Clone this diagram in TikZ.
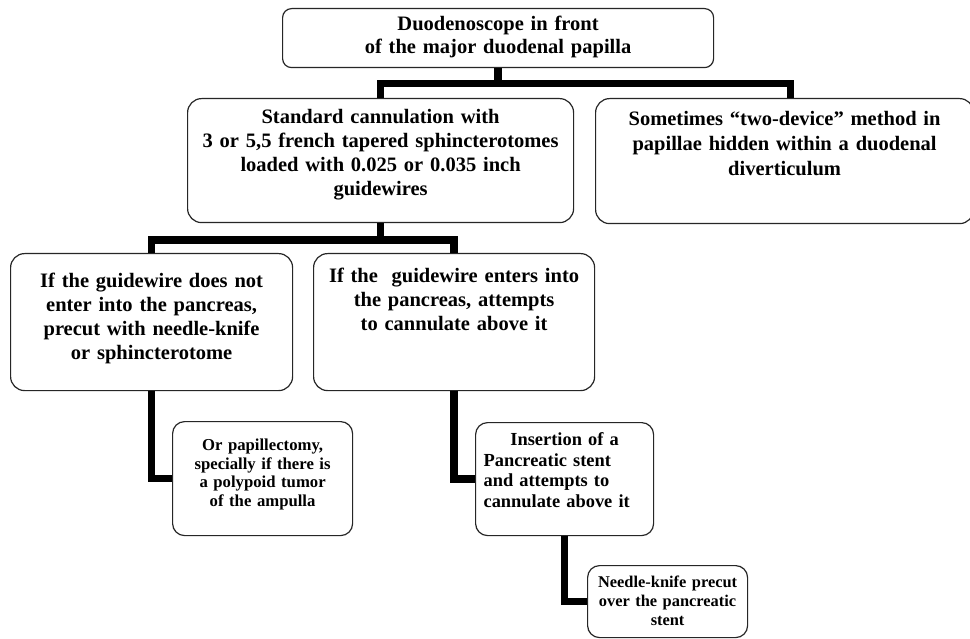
\documentclass[tikz,border=0pt]{standalone}
\usepackage{fontspec}
\setmainfont{Liberation Serif}
\begin{document}
\begin{tikzpicture}[x=1pt,y=-1pt,
  box/.style={draw=black!85, line width=1.2pt, rounded corners=14pt, inner sep=0pt,
    anchor=north west, align=center, font=\bfseries\fontsize{20.5}{24}\selectfont},
  smallbox/.style={box, rounded corners=12pt},
  conn/.style={line width=7.5pt, line join=miter, line cap=butt}]
\useasboundingbox (0,0) rectangle (970,639);
\fill[white] (0,0) rectangle (970,639);
\clip (0,0) rectangle (970,639);

\node[box, rounded corners=9pt, text width=431pt, text height=22pt, text depth=37pt,
  font=\bfseries\fontsize{20.5}{23}\selectfont] (top) at (282,8)
  {Duodenoscope in front\\of the major duodenal papilla};

\node[box, text width=386pt, text height=25pt, text depth=99pt] (mid) at (187,98)
  {Standard cannulation with\\3 or 5,5 french tapered sphincterotomes\\loaded with 0.025 or 0.035 inch\\guidewires};

\node[box, text width=378pt, text height=27pt, text depth=98pt,
  font=\bfseries\fontsize{20.5}{25}\selectfont] (right) at (595,98)
  {Sometimes “two-device” method in\\papillae hidden within a duodenal\\diverticulum};

\node[box, text width=282pt, text height=34pt, text depth=103pt] (left) at (10,253)
  {If the guidewire does not\\enter into the pancreas,\\precut with needle-knife\\or sphincterotome};

\node[box, text width=281pt, text height=29pt, text depth=108pt] (second) at (313,253)
  {If the\ \ guidewire enters into\\the pancreas, attempts\\to cannulate above it};

\node[smallbox, text width=180pt, text height=29pt, text depth=85pt,
  font=\bfseries\fontsize{16.7}{18.5}\selectfont] (orb) at (172,421)
  {Or papillectomy,\\specially if there is\\a polypoid tumor\\of the ampulla};

\node[smallbox, align=left, text width=178pt, text height=23pt, text depth=90pt,
  font=\bfseries\fontsize{18.4}{20.5}\selectfont] (ins) at (475,422)
  {\makebox[\linewidth]{Insertion of a}\\\hspace*{8pt}Pancreatic stent\\\hspace*{8pt}and attempts to\\\hspace*{8pt}cannulate above it};

\node[smallbox, text width=160pt, text height=22pt, text depth=50pt,
  font=\bfseries\fontsize{16.4}{19}\selectfont] (needle) at (587,565)
  {Needle-knife precut\\over the pancreatic\\stent};

\draw[conn] (top.south) -- ++(0,15.5) coordinate (j1);
\draw[conn] (mid.north) |- (j1) -| ([xshift=6pt]right.north);
\draw[conn] (mid.south) -- ++(0,17) coordinate (j2);
\draw[conn] (left.north) |- (j2) -| (second.north);
\draw[conn] (left.south) |- (orb.west);
\draw[conn] (second.south) |- (ins.west);
\draw[conn] (ins.south) |- (needle.west);
\end{tikzpicture}
\end{document}
